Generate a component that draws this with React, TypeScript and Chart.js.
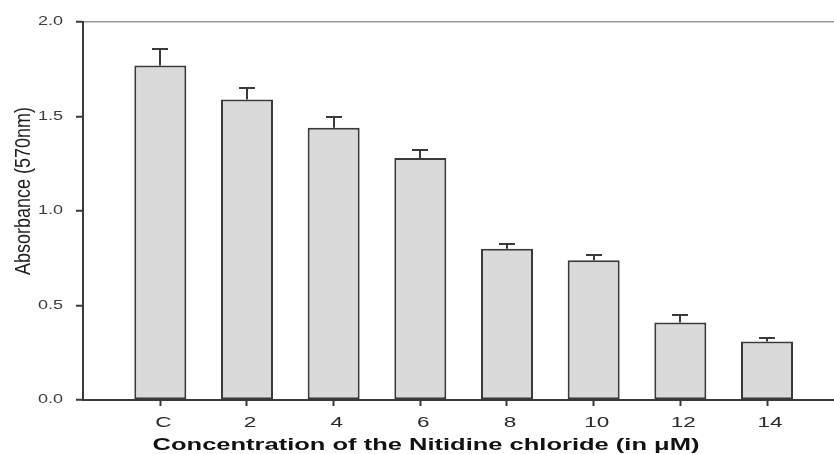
import React, { useEffect, useRef } from "react";
import { Chart, registerables } from "chart.js";

Chart.register(...registerables);

// Nitidine chloride concentrations (µM); "C" is the untreated control
const CATEGORIES = ["C", "2", "4", "6", "8", "10", "12", "14"];
// Mean absorbance at 570 nm
const ABSORBANCE = [1.77, 1.59, 1.44, 1.28, 0.8, 0.74, 0.41, 0.31];
// Upper error (SD)
const ERRORS = [0.087, 0.06, 0.055, 0.044, 0.028, 0.028, 0.038, 0.02];
// Y-axis tick values
const Y_TICKS = [0, 0.5, 1.0, 1.5, 2.0];

const X_TITLE = "Concentration of the Nitidine chloride (in \u03bcM)";
const Y_TITLE = "Absorbance (570nm)";

const FONT = "'Liberation Sans', Arial, sans-serif";
const AXIS_COLOR = "#3a3a3a";
const STRETCH = 1.5;

function stretchedText(
  ctx: CanvasRenderingContext2D,
  text: string,
  x: number,
  y: number,
  sx: number,
  align: CanvasTextAlign,
  baseline: CanvasTextBaseline
) {
  ctx.save();
  ctx.translate(x, y);
  ctx.scale(sx, 1);
  ctx.textAlign = align;
  ctx.textBaseline = baseline;
  ctx.fillText(text, 0, 0);
  ctx.restore();
}

// Upper error whiskers with caps
const errorBars = {
  id: "errorBars",
  afterDatasetsDraw(chart: any) {
    const ctx = chart.ctx as CanvasRenderingContext2D;
    const yScale = chart.scales.y;
    const meta = chart.getDatasetMeta(0);
    ctx.save();
    ctx.strokeStyle = AXIS_COLOR;
    ctx.lineWidth = 2;
    ABSORBANCE.forEach((v, i) => {
      const bar = meta.data[i];
      if (!bar) return;
      const x = Math.round(bar.x);
      const yTop = yScale.getPixelForValue(v);
      const yErr = Math.round(yScale.getPixelForValue(v + ERRORS[i]));
      ctx.beginPath();
      ctx.moveTo(x, yTop);
      ctx.lineTo(x, yErr);
      ctx.moveTo(x - 8, yErr);
      ctx.lineTo(x + 8, yErr);
      ctx.stroke();
    });
    ctx.restore();
  },
};

// Tick labels and axis titles
const axisText = {
  id: "axisText",
  afterDraw(chart: any) {
    const ctx = chart.ctx as CanvasRenderingContext2D;
    const xScale = chart.scales.x;
    const yScale = chart.scales.y;
    const area = chart.chartArea;
    ctx.save();

    ctx.fillStyle = "#3c3c3c";
    ctx.font = `12px ${FONT}`;
    Y_TICKS.forEach((t) => {
      stretchedText(ctx, t.toFixed(1), area.left - 20, yScale.getPixelForValue(t), STRETCH, "right", "middle");
    });

    ctx.fillStyle = "#2a2a2a";
    ctx.font = `15px ${FONT}`;
    CATEGORIES.forEach((c, i) => {
      stretchedText(ctx, c, xScale.getPixelForValue(i + 1) + 3, area.bottom + 27, STRETCH, "center", "alphabetic");
    });

    ctx.fillStyle = "#111";
    ctx.font = `bold 17px ${FONT}`;
    stretchedText(ctx, X_TITLE, 426, area.bottom + 50, STRETCH, "center", "alphabetic");

    // Rotated y title, glyphs widened across the text direction
    ctx.fillStyle = "#1e1e1e";
    ctx.font = `18px ${FONT}`;
    ctx.translate(24, 191);
    ctx.rotate(-Math.PI / 2);
    ctx.scale(1, 1.25);
    ctx.textAlign = "center";
    ctx.textBaseline = "middle";
    ctx.fillText(Y_TITLE, 0, 0);
    ctx.restore();
  },
};

export default function App() {
  const canvasRef = useRef<HTMLCanvasElement | null>(null);

  useEffect(() => {
    document.body.style.margin = "0";
    const canvas = canvasRef.current;
    if (!canvas) return;
    const chart = new Chart(canvas, {
      type: "bar",
      data: {
        datasets: [
          {
            data: ABSORBANCE.map((v, i) => ({ x: i + 1, y: v })),
            backgroundColor: "#dadada",
            borderColor: AXIS_COLOR,
            borderWidth: 2,
            borderSkipped: false,
            barPercentage: 0.6,
            categoryPercentage: 1,
          },
        ],
      },
      options: {
        animation: false,
        responsive: false,
        devicePixelRatio: 1,
        layout: { padding: { top: 22, left: 0, right: 0, bottom: 0 } },
        plugins: {
          legend: { display: false },
          tooltip: { enabled: false },
          title: { display: false },
        },
        scales: {
          x: {
            type: "linear",
            offset: false,
            min: 0.108,
            max: 8.773,
            afterBuildTicks: (scale: any) => {
              scale.ticks = CATEGORIES.map((_, i) => ({ value: i + 1 }));
            },
            afterFit: (scale: any) => {
              scale.height = 54;
            },
            ticks: { display: false },
            grid: {
              display: true,
              offset: false,
              drawOnChartArea: false,
              drawTicks: true,
              tickLength: 6,
              tickColor: AXIS_COLOR,
              tickWidth: 2,
            },
            border: { display: true, color: AXIS_COLOR, width: 2 },
          },
          y: {
            min: 0,
            max: 2,
            afterBuildTicks: (scale: any) => {
              scale.ticks = Y_TICKS.map((v) => ({ value: v }));
            },
            afterFit: (scale: any) => {
              scale.width = 83;
            },
            ticks: { display: false },
            grid: {
              display: true,
              drawOnChartArea: true,
              drawTicks: true,
              tickLength: 7,
              tickColor: AXIS_COLOR,
              tickWidth: 2,
              lineWidth: 1.5,
              color: (ctx: any) =>
                ctx.tick && ctx.tick.value === 2 ? "#9a9a9a" : "rgba(0,0,0,0)",
            },
            border: { display: true, color: AXIS_COLOR, width: 2 },
          },
        },
      },
      plugins: [errorBars, axisText],
    });
    return () => chart.destroy();
  }, []);

  return (
    <div style={{ width: 834, height: 454, background: "#fff" }}>
      <canvas ref={canvasRef} width={834} height={454} style={{ display: "block" }} />
    </div>
  );
}
